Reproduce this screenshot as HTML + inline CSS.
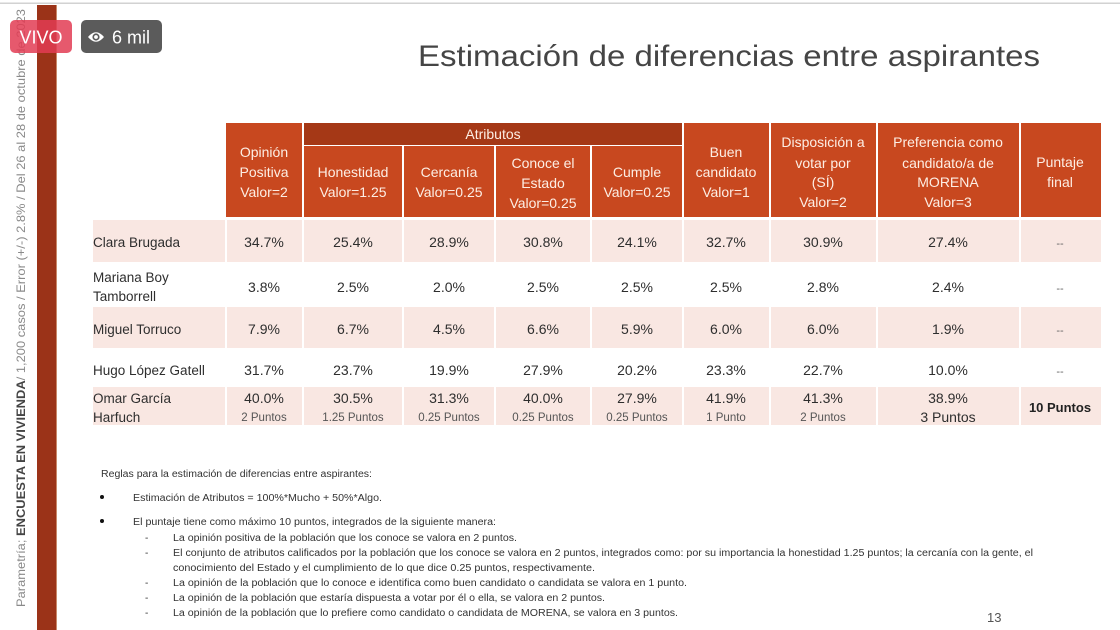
<!DOCTYPE html>
<html>
<head>
<meta charset="utf-8">
<style>
html,body{margin:0;padding:0;background:#fff;}
svg{display:block;}
text{font-family:"Liberation Sans",sans-serif;}
</style>
</head>
<body>
<svg width="1120" height="630" viewBox="0 0 1120 630" xmlns="http://www.w3.org/2000/svg">
<rect x="0" y="0" width="1120" height="630" fill="#ffffff"/>
<!-- top line -->
<rect x="0" y="2.5" width="1120" height="1.5" fill="#d2d2d2"/>
<!-- left bar -->
<rect x="37" y="5" width="20" height="625" fill="#9b3318"/>
<rect x="56" y="5" width="1" height="625" fill="#c98a6a"/>

<!-- vertical side text -->
<text transform="translate(25,607) rotate(-90)" font-size="12" fill="#8a8a8a" textLength="598" lengthAdjust="spacingAndGlyphs">Parametría; <tspan font-weight="bold" fill="#444">ENCUESTA EN VIVIENDA</tspan>/ 1,200 casos / Error (+/-) 2.8% / Del 26 al 28 de octubre de 2023</text>

<!-- badges -->
<rect x="10" y="20" width="62" height="33" rx="5" fill="#e23c54" fill-opacity="0.85"/>
<text x="41" y="43.5" font-size="18" fill="#ffffff" text-anchor="middle">VIVO</text>
<rect x="81" y="20" width="81" height="33" rx="5" fill="#5b5b5b"/>
<path d="M88 37 Q96 27.5 104 37 Q96 46.5 88 37 Z" fill="#ffffff"/>
<circle cx="96" cy="37" r="3.6" fill="#5b5b5b"/>
<circle cx="96" cy="37" r="1.9" fill="#ffffff"/>
<text x="112" y="43.5" font-size="18" fill="#ffffff">6 mil</text>

<!-- title -->
<text x="418" y="66" font-size="30" fill="#454545" textLength="622" lengthAdjust="spacingAndGlyphs">Estimación de diferencias entre aspirantes</text>

<!-- header cells -->
<g fill="#c8481f">
<rect x="226" y="123" width="76" height="94"/>
<rect x="304" y="146" width="98" height="71"/>
<rect x="404" y="146" width="90" height="71"/>
<rect x="496" y="146" width="94" height="71"/>
<rect x="592" y="146" width="90" height="71"/>
<rect x="684" y="123" width="85" height="94"/>
<rect x="771" y="123" width="105" height="94"/>
<rect x="878" y="123" width="141" height="94"/>
<rect x="1021" y="123" width="80" height="94"/>
</g>
<rect x="304" y="123" width="378" height="22" fill="#a53816"/>

<g font-size="14" fill="#fdeee4" text-anchor="middle">
<text x="493" y="139">Atributos</text>
<text x="264" y="157">Opinión</text>
<text x="264" y="177">Positiva</text>
<text x="264" y="197">Valor=2</text>
<text x="353" y="177">Honestidad</text>
<text x="353" y="197">Valor=1.25</text>
<text x="449" y="177">Cercanía</text>
<text x="449" y="197">Valor=0.25</text>
<text x="543" y="168">Conoce el</text>
<text x="543" y="188">Estado</text>
<text x="543" y="208">Valor=0.25</text>
<text x="637" y="177">Cumple</text>
<text x="637" y="197">Valor=0.25</text>
<text x="726" y="157">Buen</text>
<text x="726" y="177">candidato</text>
<text x="726" y="197">Valor=1</text>
<text x="823" y="147">Disposición a</text>
<text x="823" y="168">votar por</text>
<text x="823" y="187">(SÍ)</text>
<text x="823" y="207">Valor=2</text>
<text x="948" y="147">Preferencia como</text>
<text x="948" y="168">candidato/a de</text>
<text x="948" y="187">MORENA</text>
<text x="948" y="207">Valor=3</text>
<text x="1060" y="167">Puntaje</text>
<text x="1060" y="187">final</text>
</g>

<!-- pink row backgrounds -->
<g fill="#f9e7e2">
<rect x="93" y="220" width="132" height="42"/>
<rect x="227" y="220" width="75" height="42"/>
<rect x="304" y="220" width="98" height="42"/>
<rect x="404" y="220" width="90" height="42"/>
<rect x="496" y="220" width="94" height="42"/>
<rect x="592" y="220" width="90" height="42"/>
<rect x="684" y="220" width="85" height="42"/>
<rect x="771" y="220" width="105" height="42"/>
<rect x="878" y="220" width="141" height="42"/>
<rect x="1021" y="220" width="80" height="42"/>
<rect x="93" y="307" width="132" height="41"/>
<rect x="227" y="307" width="75" height="41"/>
<rect x="304" y="307" width="98" height="41"/>
<rect x="404" y="307" width="90" height="41"/>
<rect x="496" y="307" width="94" height="41"/>
<rect x="592" y="307" width="90" height="41"/>
<rect x="684" y="307" width="85" height="41"/>
<rect x="771" y="307" width="105" height="41"/>
<rect x="878" y="307" width="141" height="41"/>
<rect x="1021" y="307" width="80" height="41"/>
<rect x="93" y="387" width="132" height="38"/>
<rect x="227" y="387" width="75" height="38"/>
<rect x="304" y="387" width="98" height="38"/>
<rect x="404" y="387" width="90" height="38"/>
<rect x="496" y="387" width="94" height="38"/>
<rect x="592" y="387" width="90" height="38"/>
<rect x="684" y="387" width="85" height="38"/>
<rect x="771" y="387" width="105" height="38"/>
<rect x="878" y="387" width="141" height="38"/>
<rect x="1021" y="387" width="80" height="38"/>
</g>

<!-- names -->
<g font-size="13.5" fill="#2e2e2e">
<text x="93" y="247">Clara Brugada</text>
<text x="93" y="282">Mariana Boy</text>
<text x="93" y="301">Tamborrell</text>
<text x="93" y="334">Miguel Torruco</text>
<text x="93" y="375">Hugo López Gatell</text>
<text x="93" y="403">Omar García</text>
<text x="93" y="422">Harfuch</text>
</g>

<!-- data -->
<g font-size="14" fill="#2e2e2e" text-anchor="middle">
<text x="264" y="247">34.7%</text>
<text x="353" y="247">25.4%</text>
<text x="449" y="247">28.9%</text>
<text x="543" y="247">30.8%</text>
<text x="637" y="247">24.1%</text>
<text x="726" y="247">32.7%</text>
<text x="823" y="247">30.9%</text>
<text x="948" y="247">27.4%</text>
<text x="1060" y="247" font-size="11" fill="#666">--</text>

<text x="264" y="292">3.8%</text>
<text x="353" y="292">2.5%</text>
<text x="449" y="292">2.0%</text>
<text x="543" y="292">2.5%</text>
<text x="637" y="292">2.5%</text>
<text x="726" y="292">2.5%</text>
<text x="823" y="292">2.8%</text>
<text x="948" y="292">2.4%</text>
<text x="1060" y="292" font-size="11" fill="#666">--</text>

<text x="264" y="334">7.9%</text>
<text x="353" y="334">6.7%</text>
<text x="449" y="334">4.5%</text>
<text x="543" y="334">6.6%</text>
<text x="637" y="334">5.9%</text>
<text x="726" y="334">6.0%</text>
<text x="823" y="334">6.0%</text>
<text x="948" y="334">1.9%</text>
<text x="1060" y="334" font-size="11" fill="#666">--</text>

<text x="264" y="375">31.7%</text>
<text x="353" y="375">23.7%</text>
<text x="449" y="375">19.9%</text>
<text x="543" y="375">27.9%</text>
<text x="637" y="375">20.2%</text>
<text x="726" y="375">23.3%</text>
<text x="823" y="375">22.7%</text>
<text x="948" y="375">10.0%</text>
<text x="1060" y="375" font-size="11" fill="#666">--</text>

<text x="264" y="403">40.0%</text>
<text x="353" y="403">30.5%</text>
<text x="449" y="403">31.3%</text>
<text x="543" y="403">40.0%</text>
<text x="637" y="403">27.9%</text>
<text x="726" y="403">41.9%</text>
<text x="823" y="403">41.3%</text>
<text x="948" y="403">38.9%</text>
<text x="948" y="422">3 Puntos</text>
<text x="1060" y="412" font-size="13" font-weight="bold" fill="#222">10 Puntos</text>
</g>
<g font-size="11.5" fill="#555" text-anchor="middle">
<text x="264" y="421">2 Puntos</text>
<text x="353" y="421">1.25 Puntos</text>
<text x="449" y="421">0.25 Puntos</text>
<text x="543" y="421">0.25 Puntos</text>
<text x="637" y="421">0.25 Puntos</text>
<text x="726" y="421">1 Punto</text>
<text x="823" y="421">2 Puntos</text>
</g>

<!-- notes -->
<g font-size="10" fill="#333">
<text x="101" y="477" textLength="271" lengthAdjust="spacingAndGlyphs">Reglas para la estimación de diferencias entre aspirantes:</text>
<circle cx="102" cy="497" r="2" fill="#111"/>
<text x="133" y="501" textLength="249" lengthAdjust="spacingAndGlyphs">Estimación de Atributos = 100%*Mucho + 50%*Algo.</text>
<circle cx="102" cy="521" r="2" fill="#111"/>
<text x="133" y="525" textLength="363" lengthAdjust="spacingAndGlyphs">El puntaje tiene como máximo 10 puntos, integrados de la siguiente manera:</text>
<text x="145" y="541">-</text>
<text x="173" y="541" textLength="344" lengthAdjust="spacingAndGlyphs">La opinión positiva de la población que los conoce se valora en 2 puntos.</text>
<text x="145" y="556">-</text>
<text x="173" y="556" textLength="860" lengthAdjust="spacingAndGlyphs">El conjunto de atributos calificados por la población que los conoce se valora en 2 puntos, integrados como: por su importancia la honestidad 1.25 puntos; la cercanía con la gente, el</text>
<text x="173" y="571" textLength="422" lengthAdjust="spacingAndGlyphs">conocimiento del Estado y el cumplimiento de lo que dice 0.25 puntos, respectivamente.</text>
<text x="145" y="586">-</text>
<text x="173" y="586" textLength="514" lengthAdjust="spacingAndGlyphs">La opinión de la población que lo conoce e identifica como buen candidato o candidata se valora en 1 punto.</text>
<text x="145" y="601">-</text>
<text x="173" y="601" textLength="432" lengthAdjust="spacingAndGlyphs">La opinión de la población que estaría dispuesta a votar por él o ella, se valora en 2 puntos.</text>
<text x="145" y="616">-</text>
<text x="173" y="616" textLength="505" lengthAdjust="spacingAndGlyphs">La opinión de la población que lo prefiere como candidato o candidata de MORENA, se valora en 3 puntos.</text>
</g>
<text x="987" y="622" font-size="13" fill="#555">13</text>
</svg>
</body>
</html>
